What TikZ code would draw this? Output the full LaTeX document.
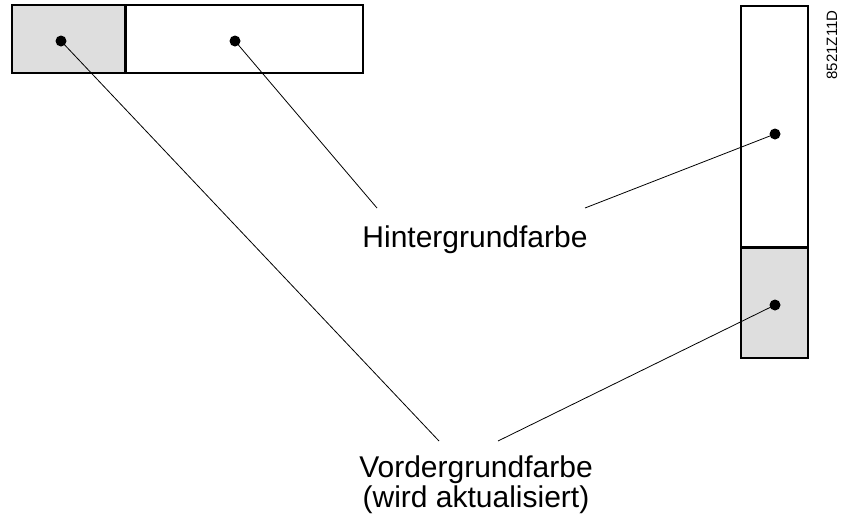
\documentclass[tikz,border=0pt]{standalone}
\usepackage{fontspec}
\setmainfont{Liberation Sans}
\usetikzlibrary{positioning}

\begin{document}
\begin{tikzpicture}[x=1pt, y=-1pt,
    box/.style={draw=borderColour, line width=2pt, inner sep=0pt},
    dot/.style={circle, fill=black, inner sep=0pt, minimum size=11pt},
    pointer/.style={draw=black, line width=0.8pt},
    caption/.style={font=\fontsize{30}{30}\selectfont, align=center, inner sep=0pt}]
    % Define colours
    \definecolor{borderColour}{HTML}{000000}
    \definecolor{fillColour}{HTML}{DEDEDE}

    % Fix the picture size
    \useasboundingbox (0,0) rectangle (847,520);

    % Draw the horizontal bar
    \node[box, fill=fillColour, minimum width=113pt, minimum height=68pt] (hFore) at (68.5,39) {};
    \node[box, fill=white, minimum width=237pt, minimum height=68pt, right=-1pt of hFore] (hBack) {};

    % Draw the vertical bar
    \node[box, fill=white, minimum width=67pt, minimum height=241pt] (vBack) at (774.5,126.5) {};
    \node[box, fill=fillColour, minimum width=67pt, minimum height=110pt, below=-1pt of vBack] (vFore) {};

    % Draw the dots
    \node[dot] (hForeDot) at (61,41) {};
    \node[dot] (hBackDot) at (235,41) {};
    \node[dot] (vBackDot) at (775,134) {};
    \node[dot] (vForeDot) at (775,305) {};

    % Label the colours
    \node[caption, anchor=base] (bgLabel) at (475,247) {Hintergrundfarbe};
    \node[caption, anchor=base] (fgLabel) at (476,507) {Vordergrundfarbe\\(wird aktualisiert)};

    % Define free ends of the pointers
    \coordinate (bgLeft) at (377,208);
    \coordinate (bgRight) at (585,208);
    \coordinate (fgLeft) at (439,441);
    \coordinate (fgRight) at (498,441);

    % Draw the pointers
    \draw[pointer] (hBackDot.center) -- (bgLeft);
    \draw[pointer] (vBackDot.center) -- (bgRight);
    \draw[pointer] (hForeDot.center) -- (fgLeft);
    \draw[pointer] (vForeDot.center) -- (fgRight);

    % Drawing number
    \node[rotate=90, font=\fontsize{15}{15}\selectfont, inner sep=0pt] (drawNo) at (832,45) {8521Z11D};

\end{tikzpicture}
\end{document}
